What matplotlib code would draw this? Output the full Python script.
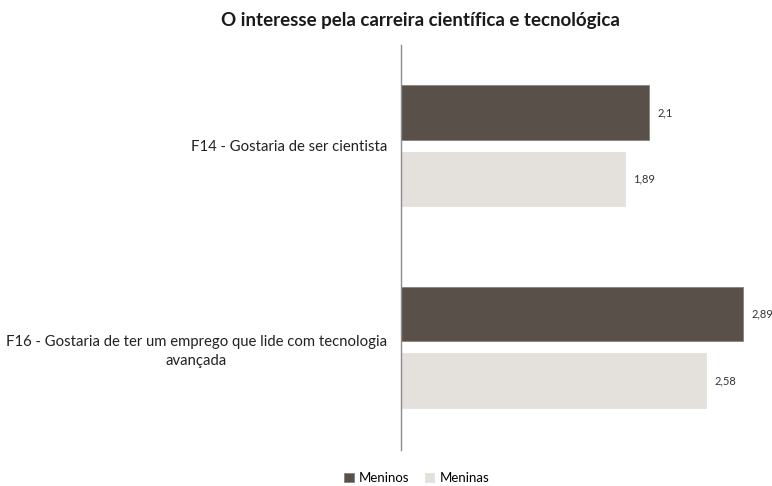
import matplotlib
matplotlib.use('Agg')
import matplotlib.pyplot as plt
import numpy as np

categories = ['F14 - Gostaria de ser cientista',
              'F16 - Gostaria de ter um emprego que lide com tecnologia\navançada']
meninos = [2.1, 2.89]
meninas = [1.89, 2.58]
series_names = ['Meninos', 'Meninas']

plt.rcParams['font.family'] = ['Lato', 'DejaVu Sans']

DARK = '#595049'
LIGHT = '#e4e0dc'

fig = plt.figure(figsize=(7.72, 4.86), dpi=100)
ax = fig.add_axes([401 / 772, 36 / 486, 362 / 772, 405 / 486])

y = np.arange(len(categories))
h = 0.27
off = 0.165
b1 = ax.barh(y - off, meninos, height=h, color=DARK, edgecolor='#8a827c', linewidth=0.6,
             label=series_names[0])
b2 = ax.barh(y + off, meninas, height=h, color=LIGHT, edgecolor=LIGHT, linewidth=0.6,
             label=series_names[1])

for bars, vals in ((b1, meninos), (b2, meninas)):
    for bar, v in zip(bars, vals):
        ax.annotate(f'{v:g}'.replace('.', ','),
                    (bar.get_width(), bar.get_y() + bar.get_height() / 2),
                    xytext=(6, 0), textcoords='offset points',
                    ha='left', va='center', fontsize=8, color='#333333')

ax.set_xlim(0, 3.06)
ax.set_ylim(1.51, -0.50)
ax.set_xticks([])
ax.set_yticks(y)
ax.set_yticklabels(categories, fontsize=10.7, color='#222222', multialignment='center',
                   linespacing=1.45)
ax.tick_params(axis='y', length=0, pad=10)
for s in ('top', 'right', 'bottom'):
    ax.spines[s].set_visible(False)
ax.spines['left'].set_color('#8c8c8c')
ax.spines['left'].set_linewidth(1)

fig.suptitle('O interesse pela carreira científica e tecnológica', x=0.545, y=0.975,
             fontsize=13.5, fontweight='bold', color='#1a1a1a')

fig.legend(handles=[b1, b2], labels=series_names, loc='lower center',
           bbox_to_anchor=(0.54, -0.02), ncol=2, frameon=False, fontsize=9.5,
           handlelength=0.7, handleheight=0.7, handletextpad=0.4, columnspacing=1.2)

fig.savefig('out.png', dpi=100)
